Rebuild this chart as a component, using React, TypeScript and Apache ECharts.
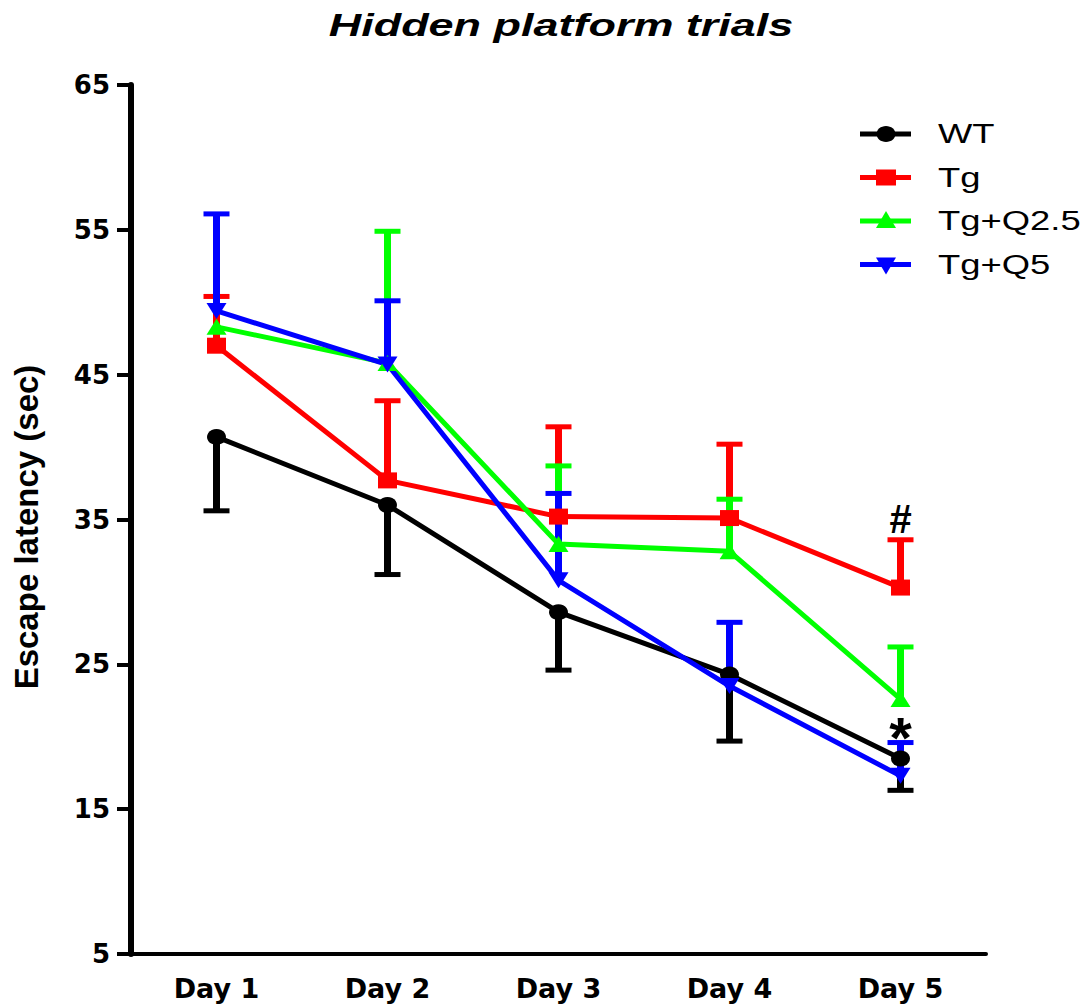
import React, { useEffect, useRef } from "react";
import * as echarts from "echarts";

const days = ["Day 1", "Day 2", "Day 3", "Day 4", "Day 5"];
const yTicks = [5, 15, 25, 35, 45, 55, 65];

const wtMean = [40.7, 36.0, 28.6, 24.3, 18.5];
const wtErrEnd = [35.6, 31.2, 24.6, 19.7, 16.3];

const tgMean = [47.0, 37.7, 35.2, 35.1, 30.3];
const tgErrEnd = [50.4, 43.2, 41.4, 40.2, 33.6];

const q25Mean = [48.3, 45.8, 33.3, 32.8, 22.6];
const q25ErrEnd: (number | null)[] = [null, 54.9, 38.7, 36.4, 26.2];

const q5Mean = [49.4, 45.7, 30.8, 23.5, 17.3];
const q5ErrEnd = [56.1, 50.1, 36.8, 27.9, 19.6];

const groupNames = ["WT", "Tg", "Tg+Q2.5", "Tg+Q5"];
const groupColors = ["#000000", "#ff0000", "#00ff00", "#0000ff"];

const annotations = [
  { day: 4, value: 33.6, text: "#" },
  { day: 4, value: 19.6, text: "*" },
];

const FONT = "'Liberation Sans', Arial, sans-serif";
const AXFONT = "'DejaVu Sans', sans-serif";

function errSeries(name: string, mean: number[], end: (number | null)[], color: string) {
  return {
    type: "custom",
    name: name + "-err",
    data: mean.map((m, i) => [i, m, end[i] == null ? m : end[i]]),
    renderItem: (params: any, api: any) => {
      const x = api.value(0);
      const v0 = api.value(1);
      const v1 = api.value(2);
      if (v0 === v1) return { type: "group", children: [] };
      const p0 = api.coord([x, v0]);
      const p1 = api.coord([x, v1]);
      const hw = 13;
      return {
        type: "group",
        children: [
          { type: "line", shape: { x1: p0[0], y1: p0[1], x2: p1[0], y2: p1[1] }, style: { stroke: color, lineWidth: 7 } },
          { type: "line", shape: { x1: p1[0] - hw, y1: p1[1], x2: p1[0] + hw, y2: p1[1] }, style: { stroke: color, lineWidth: 5 } },
        ],
      };
    },
    encode: { x: 0, y: [1, 2] },
    silent: true,
  };
}

function lineSeries(name: string, data: number[], color: string, symbol: string, size: any, rotate = 0, extra: any = {}) {
  return {
    type: "line",
    name,
    data,
    symbol,
    symbolSize: size,
    symbolRotate: rotate,
    showAllSymbol: true,
    lineStyle: { color, width: 5 },
    itemStyle: { color },
    ...extra,
  };
}

function legendGraphics() {
  const els: any[] = [];
  groupNames.forEach((name, i) => {
    const y = 134 + i * 43.5;
    const c = groupColors[i];
    els.push({ type: "line", shape: { x1: 860, y1: y, x2: 911, y2: y }, style: { stroke: c, lineWidth: 5 } });
    const cx = 886;
    if (i === 0) els.push({ type: "ellipse", shape: { cx, cy: y, rx: 9.5, ry: 8 }, style: { fill: c } });
    if (i === 1) els.push({ type: "rect", shape: { x: cx - 10, y: y - 8, width: 20, height: 16 }, style: { fill: c } });
    if (i === 2)
      els.push({ type: "polygon", shape: { points: [[cx, y - 10], [cx + 10, y + 7], [cx - 10, y + 7]] }, style: { fill: c } });
    if (i === 3)
      els.push({ type: "polygon", shape: { points: [[cx, y + 10], [cx + 10, y - 7], [cx - 10, y - 7]] }, style: { fill: c } });
    els.push({
      type: "text",
      x: 938,
      y: y,
      scaleX: 1.3,
      style: { text: name, fontFamily: FONT, fontSize: 28, fill: "#000", textAlign: "left", textVerticalAlign: "middle" },
    });
  });
  return els;
}

export default function App() {
  const ref = useRef<HTMLDivElement>(null);
  useEffect(() => {
    document.body.style.margin = "0";
    const chart = echarts.init(ref.current!, null, { renderer: "svg" });
    const option: any = {
      animation: false,
      backgroundColor: "#ffffff",
      grid: { left: 131, right: 101, top: 85, bottom: 51, containLabel: false },
      graphic: [
        {
          type: "text",
          x: 561,
          y: 25,
          scaleX: 1.45,
          style: {
            text: "Hidden platform trials",
            textAlign: "center",
            textVerticalAlign: "middle",
            fontFamily: FONT,
            fontSize: 31,
            fontWeight: "bold",
            fontStyle: "italic",
            fill: "#000",
          },
        },
        {
          type: "text",
          x: 26,
          y: 527,
          rotation: Math.PI / 2,
          style: {
            text: "Escape latency (sec)",
            textAlign: "center",
            textVerticalAlign: "middle",
            fontFamily: FONT,
            fontSize: 33,
            fontWeight: "bold",
            fill: "#000",
          },
        },
        ...legendGraphics(),
      ],
      xAxis: {
        type: "category",
        data: days,
        boundaryGap: true,
        axisLine: { lineStyle: { color: "#000", width: 4 } },
        axisTick: { alignWithLabel: true, length: 11, lineStyle: { color: "#000", width: 5 } },
        axisLabel: { color: "#000", fontFamily: AXFONT, fontWeight: "bold", fontSize: 27, margin: 21 },
        splitLine: { show: false },
      },
      yAxis: {
        type: "value",
        min: 5,
        max: 65,
        interval: 10,
        axisLine: { show: true, lineStyle: { color: "#000", width: 6 } },
        axisTick: { show: true, length: 14, lineStyle: { color: "#000", width: 4 } },
        axisLabel: {
          color: "#000",
          fontFamily: AXFONT,
          fontWeight: "bold",
          fontSize: 26,
          margin: 21,
          formatter: (v: number) => (yTicks.includes(v) ? String(v) : ""),
        },
        splitLine: { show: false },
      },
      series: [
        errSeries("WT", wtMean, wtErrEnd, groupColors[0]),
        lineSeries("WT", wtMean, groupColors[0], "circle", [19, 16], 0, {
          markPoint: {
            symbol: "circle",
            symbolSize: 0,
            data: [{ coord: [annotations[1].day, annotations[1].value], value: annotations[1].text }],
            label: { show: true, formatter: annotations[1].text, color: "#000", fontSize: 58, fontWeight: "bold", fontFamily: FONT, offset: [0, -5] },
          },
        }),
        errSeries("Tg", tgMean, tgErrEnd, groupColors[1]),
        lineSeries("Tg", tgMean, groupColors[1], "rect", [19, 16], 0, {
          markPoint: {
            symbol: "circle",
            symbolSize: 0,
            data: [{ coord: [annotations[0].day, annotations[0].value], value: annotations[0].text }],
            label: { show: true, formatter: annotations[0].text, color: "#000", fontSize: 40, fontWeight: "bold", fontFamily: FONT, offset: [0, -21] },
          },
        }),
        errSeries("Tg+Q2.5", q25Mean, q25ErrEnd, groupColors[2]),
        lineSeries("Tg+Q2.5", q25Mean, groupColors[2], "triangle", [20, 16]),
        errSeries("Tg+Q5", q5Mean, q5ErrEnd, groupColors[3]),
        lineSeries("Tg+Q5", q5Mean, groupColors[3], "triangle", [20, 16], 180),
      ],
    };
    chart.setOption(option);
    return () => chart.dispose();
  }, []);
  return <div ref={ref} style={{ width: 1087, height: 1005 }} />;
}
